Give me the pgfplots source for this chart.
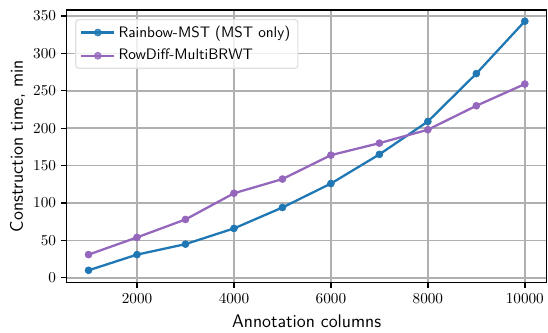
\documentclass[border=0pt]{standalone}
\usepackage{pgfplots}
\pgfplotsset{compat=1.18}
\definecolor{tabblue}{HTML}{1F77B4}
\definecolor{tabpurple}{HTML}{9467BD}
\definecolor{gridgray}{HTML}{B0B0B0}
\begin{document}
\begin{tikzpicture}
\begin{axis}[
  scale only axis,
  width=315.8pt, height=179.4pt,
  xmin=550, xmax=10450, ymin=-6.5, ymax=358,
  xtick={2000,4000,6000,8000,10000},
  ytick={0,50,100,150,200,250,300,350},
  /pgf/number format/1000 sep={},
  scaled x ticks=false,
  grid=major,
  major grid style={gridgray, line width=1pt},
  tick align=outside,
  tick pos=left,
  major tick length=3.5pt,
  every tick/.style={black, line width=0.9pt},
  axis line style={line width=0.9pt},
  xlabel={\sffamily\large Annotation columns},
  ylabel={\sffamily\large Construction time, min},
  xlabel style={at={(axis description cs:0.5,-0.1628)}, anchor=base},
  ylabel style={at={(axis description cs:-0.0912,0.5)}, anchor=base},
  legend cell align=left,
  legend style={font=\sffamily, draw=gray!25, line width=0.8pt, rounded corners=2pt, fill=white, fill opacity=0.8, text opacity=1, at={(0.0174,0.967)}, anchor=north west, inner xsep=3pt, inner ysep=2pt, row sep=2.5pt},
  legend image code/.code={
    \draw[mark repeat=2,mark phase=2] plot coordinates {(0pt,0pt) (10.85pt,0pt) (21.7pt,0pt)};
  },
]
\addplot[tabblue, line width=1.5pt, mark=*, mark size=2.3pt, mark options={line width=0.4pt}] coordinates {
(1000,10) (2000,31) (3000,45) (4000,66) (5000,94) (6000,126) (7000,165) (8000,209) (9000,273) (10000,343)
};
\addlegendentry{Rainbow-MST (MST only)}
\addplot[tabpurple, line width=1.5pt, mark=*, mark size=2.3pt, mark options={line width=0.4pt}] coordinates {
(1000,31) (2000,54) (3000,78) (4000,113) (5000,132) (6000,164) (7000,180) (8000,198) (9000,230) (10000,259)
};
\addlegendentry{RowDiff-MultiBRWT}
\end{axis}
\pgfresetboundingbox
\path ([xshift=-43.9pt,yshift=-33.1pt]current axis.south west) rectangle ([xshift=0.9pt,yshift=6.6pt]current axis.north east);
\end{tikzpicture}
\end{document}
